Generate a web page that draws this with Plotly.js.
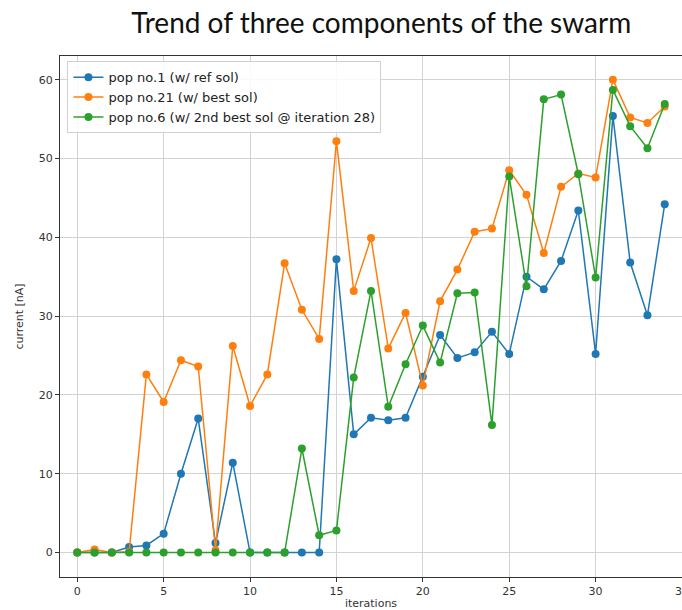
<!DOCTYPE html>
<html>
<head>
<meta charset="utf-8">
<script src="https://cdn.plot.ly/plotly-3.0.1.min.js"></script>
<style>html,body{margin:0;padding:0;background:#fff;overflow:hidden}#chart{width:682px;height:610px}</style>
</head>
<body>
<div id="chart"></div>
<script>
// iterations
const iterations = [0,1,2,3,4,5,6,7,8,9,10,11,12,13,14,15,16,17,18,19,20,21,22,23,24,25,26,27,28,29,30,31,32,33,34];
// pop no.1 (w/ ref sol)
const pop1 = [0,0,0,0.7,0.9,2.4,10.0,17.0,1.2,11.4,0,0,0,0,0,37.2,15.0,17.1,16.8,17.1,22.3,27.6,24.7,25.4,28.0,25.2,35.0,33.4,37.0,43.4,25.2,55.4,36.8,30.1,44.2];
// pop no.21 (w/ best sol)
const pop21 = [0,0.4,0,0.1,22.6,19.1,24.4,23.6,0.3,26.2,18.6,22.6,36.7,30.8,27.1,52.2,33.2,39.9,25.9,30.4,21.2,31.9,35.9,40.7,41.1,48.5,45.4,38.0,46.4,48.1,47.6,60.0,55.2,54.5,56.6];
// pop no.6 (w/ 2nd best sol @ iteration 28)
const pop6 = [0,0,0,0,0,0,0,0,0,0,0,0,0,13.2,2.2,2.8,22.2,33.2,18.5,23.9,28.8,24.1,32.9,33.0,16.2,47.7,33.8,57.5,58.1,48.0,34.9,58.7,54.1,51.3,56.9];

const seriesNames = ["pop no.1 (w/ ref sol)","pop no.21 (w/ best sol)","pop no.6 (w/ 2nd best sol @ iteration 28)"];
const seriesColors = ["#1f77b4","#ff7f0e","#2ca02c"];
const xTicks = [0,5,10,15,20,25,30,35];
const yTicks = [0,10,20,30,40,50,60];

const seriesData = [pop1, pop21, pop6];
const traces = seriesData.map((ys, i) => ({
  x: iterations, y: ys, type: 'scatter', mode: 'lines+markers',
  name: seriesNames[i],
  line: {color: seriesColors[i], width: 1.5},
  marker: {color: seriesColors[i], size: 8},
  cliponaxis: true
}));

const tickFont = {family: 'DejaVu Sans', size: 11, color: '#333'};
const layout = {
  width: 682, height: 610,
  margin: {l: 60, r: 0, t: 56, b: 33},
  paper_bgcolor: '#fff', plot_bgcolor: '#fff',
  title: {text: 'Trend of three components of the swarm', x: 0.559, xanchor: 'center', xref: 'container', y: 0.962, yanchor: 'middle', yref: 'container',
          font: {family: 'Lato, Open Sans, sans-serif', size: 28, color: '#111'}},
  xaxis: {range: [-1, 35], tickvals: xTicks, ticktext: xTicks.map(String), showgrid: true, gridcolor: '#d3d3d3', gridwidth: 1,
          zeroline: false, showline: true, linecolor: '#333', linewidth: 1, mirror: true,
          ticks: 'outside', ticklen: 4, tickcolor: '#333', tickfont: tickFont, ticklabeloverflow: 'allow',
          title: {text: 'iterations', font: {family: 'DejaVu Sans', size: 11, color: '#333'}, standoff: 2}},
  yaxis: {range: [-3.1, 63.0], tickvals: yTicks, ticktext: yTicks.map(String), showgrid: true, gridcolor: '#d3d3d3', gridwidth: 1,
          zeroline: false, showline: true, linecolor: '#333', linewidth: 1,
          ticks: 'outside', ticklen: 4, tickcolor: '#333', tickfont: tickFont,
          title: {text: 'current [nA]', font: {family: 'DejaVu Sans', size: 11, color: '#333'}, standoff: 12}},
  showlegend: true,
  legend: {x: 0.012, y: 0.99, xanchor: 'left', yanchor: 'top', bgcolor: 'rgba(255,255,255,0.85)', bordercolor: '#d0d0d0', borderwidth: 1,
           font: {family: 'DejaVu Sans', size: 13, color: '#222'}, tracegroupgap: 0, itemwidth: 30}
};
Plotly.newPlot('chart', traces, layout, {displayModeBar: false, staticPlot: true});
</script>
</body>
</html>
